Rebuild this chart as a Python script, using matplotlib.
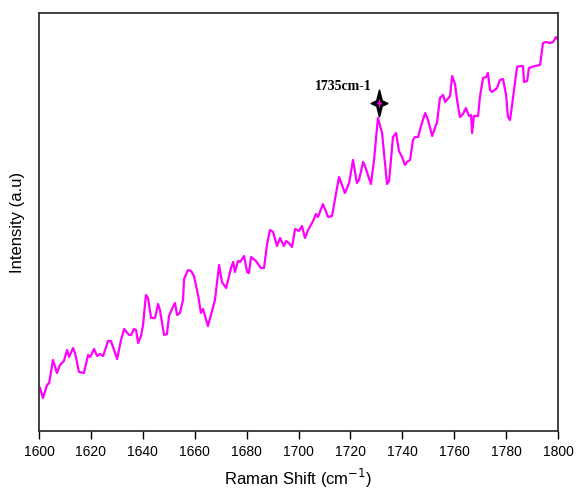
import matplotlib
matplotlib.use("Agg")
import matplotlib.pyplot as plt
from matplotlib.path import Path

raman_shift = [1600.4, 1601.5, 1603.1, 1603.9, 1605.4, 1606.9, 1608.1, 1609.6, 1610.8, 1611.6,
               1613.1, 1613.9, 1615.4, 1617.3, 1618.9, 1619.7, 1621.2, 1622.4, 1623.5, 1624.7,
               1626.6, 1627.7, 1630.1, 1631.6, 1632.8, 1634.7, 1635.5, 1636.6, 1637.4, 1638.2,
               1639.3, 1640.1, 1641.2, 1642.0, 1643.2, 1644.7, 1645.9, 1646.6, 1648.2, 1649.3,
               1650.1, 1651.6, 1652.4, 1653.2, 1654.3, 1655.5, 1655.9, 1657.4, 1658.6, 1659.7,
               1661.3, 1662.4, 1663.2, 1665.1, 1667.8, 1669.4, 1670.5, 1672.1, 1674.0, 1674.8,
               1675.5, 1676.7, 1677.5, 1679.0, 1680.2, 1680.9, 1681.7, 1683.6, 1685.5, 1686.7,
               1687.9, 1689.0, 1690.2, 1691.7, 1692.9, 1694.4, 1695.2, 1696.3, 1697.5, 1698.7,
               1700.2, 1701.3, 1702.5, 1703.7, 1705.6, 1706.7, 1707.5, 1709.4, 1711.4, 1712.9,
               1715.6, 1717.9, 1719.5, 1721.0, 1722.5, 1723.3, 1724.9, 1725.6, 1727.9, 1729.1,
               1730.6, 1732.2, 1734.1, 1734.9, 1736.4, 1737.6, 1738.7, 1739.9, 1741.0, 1741.8,
               1743.0, 1744.1, 1744.9, 1746.1, 1747.2, 1748.8, 1749.9, 1751.5, 1753.4, 1754.5,
               1755.7, 1756.5, 1758.4, 1759.2, 1760.3, 1761.1, 1762.2, 1763.4, 1764.5, 1765.7,
               1766.5, 1766.9, 1767.6, 1769.2, 1769.9, 1771.1, 1772.3, 1773.0, 1773.8, 1774.6,
               1776.5, 1777.6, 1778.8, 1780.0, 1780.7, 1781.5, 1782.3, 1784.2, 1785.4, 1786.5,
               1786.9, 1788.1, 1788.8, 1790.0, 1791.1, 1793.1, 1794.2, 1795.4, 1796.9, 1798.1,
               1799.2, 1800.0]
intensity = [43, 33, 46, 48, 71, 58, 66, 70, 81, 74,
             83, 78, 59, 58, 76, 74, 82, 75, 77, 75,
             90, 90, 72, 91, 102, 96, 96, 102, 101, 88,
             95, 106, 136, 133, 113, 113, 127, 121, 96, 97,
             115, 124, 128, 116, 118, 131, 152, 161, 160, 155,
             136, 118, 122, 105, 131, 166, 149, 143, 163, 169,
             159, 170, 169, 175, 159, 158, 174, 170, 163, 163,
             187, 201, 199, 185, 193, 185, 190, 188, 184, 202,
             200, 205, 193, 201, 210, 217, 214, 227, 214, 215,
             254, 238, 248, 271, 248, 251, 269, 265, 247, 271,
             313, 298, 247, 250, 294, 298, 280, 274, 266, 269,
             271, 291, 294, 294, 305, 318, 311, 295, 309, 333,
             336, 329, 335, 355, 347, 331, 314, 317, 323, 315,
             316, 298, 315, 315, 334, 353, 354, 358, 341, 339,
             343, 351, 352, 336, 314, 311, 326, 364, 365, 365,
             349, 350, 363, 364, 365, 366, 388, 389, 388, 389,
             394, 391]

x_ticks = [1600, 1620, 1640, 1660, 1680, 1700, 1720, 1740, 1760, 1780, 1800]
peak_label = "1735cm-1"
peak_marker_x = 1731.2
peak_marker_y = 328
label_x = 1728.3
label_y = 345

plt.rcParams['font.family'] = ['Liberation Sans', 'DejaVu Sans']

fig = plt.figure(figsize=(5.77, 4.93), dpi=100)
ax = fig.add_axes([0.0676, 0.1258, 0.8995, 0.8478])

ax.plot(raman_shift, intensity, color='#FF00FF', linewidth=1.6)

# four-point star marker
star = Path([(0, 1.0), (0.2, 0.2), (0.62, 0), (0.2, -0.2), (0, -1.0),
             (-0.2, -0.2), (-0.62, 0), (-0.2, 0.2), (0, 1.0)],
            [Path.MOVETO] + [Path.LINETO] * 7 + [Path.CLOSEPOLY])
ax.plot([peak_marker_x], [peak_marker_y], marker=star, markersize=19,
        color='black', markeredgecolor='black', markeredgewidth=1.2, linestyle='none')
ax.plot([peak_marker_x], [peak_marker_y], marker=star, markersize=7,
        color='#FF00FF', markeredgewidth=0, linestyle='none')
ax.text(label_x, label_y, peak_label, ha='right', va='center',
        fontsize=10, fontweight='bold', family=['Liberation Serif', 'DejaVu Serif'])

ax.set_xlim(1600, 1800)
ax.set_ylim(0, 418)
ax.set_xticks(x_ticks)
ax.set_yticks([])
ax.tick_params(axis='x', direction='out', length=6, width=1, labelsize=10, pad=4)
for s in ax.spines.values():
    s.set_linewidth(1.3)
    s.set_color('#333333')

ax.set_xlabel('Raman Shift (cm$^{-1}$)', fontsize=12, labelpad=6)
ax.set_ylabel('Intensity (a.u)', fontsize=12, labelpad=10)

fig.savefig('out.png', dpi=100)
